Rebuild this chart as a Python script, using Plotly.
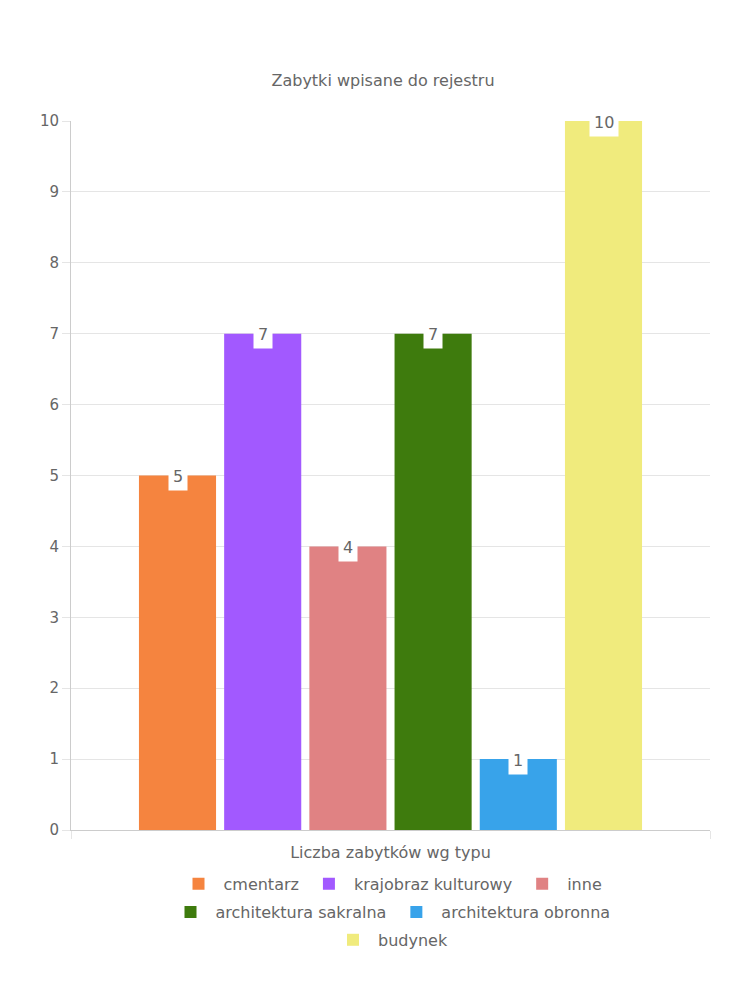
import plotly.graph_objects as go

category = ["Liczba zabytków wg typu"]
series_names = ["cmentarz", "krajobraz kulturowy", "inne",
                "architektura sakralna", "architektura obronna", "budynek"]
series_values = [5, 7, 4, 7, 1, 10]
series_colors = ["#F5843F", "#A259FF", "#E08283", "#3E7B0D", "#38A3EA", "#F0EB7D"]
legend_rows = ["legend", "legend", "legend", "legend2", "legend2", "legend3"]
y_ticks = list(range(0, 11))

FONT = "DejaVu Sans"
GREY = "#666666"
BARGAP = 0.2

fig = go.Figure()
for name, val, col, lg in zip(series_names, series_values, series_colors, legend_rows):
    fig.add_trace(go.Bar(
        x=category, y=[val], name=name, marker=dict(color=col, line=dict(width=0)),
        legend=lg, hoverinfo="y+name",
    ))

n = len(series_names)
slot = (1 - BARGAP) / n
for i, val in enumerate(series_values):
    xc = -(1 - BARGAP) / 2 + slot * (i + 0.5)
    fig.add_annotation(
        x=xc, y=val, xref="x", yref="y", text=str(val), showarrow=False,
        font=dict(family=FONT, size=16, color=GREY), bgcolor="white",
        borderpad=4, yanchor="middle", yshift=-1,
    )

leg_common = dict(orientation="h", xanchor="center", x=0.5, yanchor="middle",
                  font=dict(family=FONT, size=16, color=GREY), bgcolor="rgba(0,0,0,0)",
                  itemwidth=40, itemclick=False, itemdoubleclick=False)

fig.update_layout(
    width=750, height=1000,
    margin=dict(l=63, r=48, t=113, b=178),
    paper_bgcolor="white", plot_bgcolor="white",
    title=dict(text="Zabytki wpisane do rejestru", x=0.5, xanchor="center",
               y=1 - 72 / 1000, yanchor="middle",
               font=dict(family=FONT, size=16, color=GREY)),
    barmode="group", bargap=BARGAP, bargroupgap=0.095,
    font=dict(family=FONT, color=GREY),
    legend=dict(y=-0.076, **leg_common),
    legend2=dict(y=-0.1157, **leg_common),
    legend3=dict(y=-0.155, **leg_common),
    xaxis=dict(showgrid=True, gridcolor="#E5E5E5", tickson="boundaries",
               ticks="outside", ticklen=8, tickcolor="#E5E5E5",
               ticklabelstandoff=8,
               showline=True, linecolor="#CCCCCC", linewidth=1,
               tickfont=dict(family=FONT, size=16, color=GREY)),
    yaxis=dict(range=[0, 10], tickvals=y_ticks, showgrid=True, gridcolor="#E5E5E5",
               ticks="outside", ticklen=8, tickcolor="#E5E5E5",
               showline=True, linecolor="#CCCCCC", linewidth=1, zeroline=False,
               tickfont=dict(family=FONT, size=15, color=GREY)),
)

fig.write_html("out.html")
